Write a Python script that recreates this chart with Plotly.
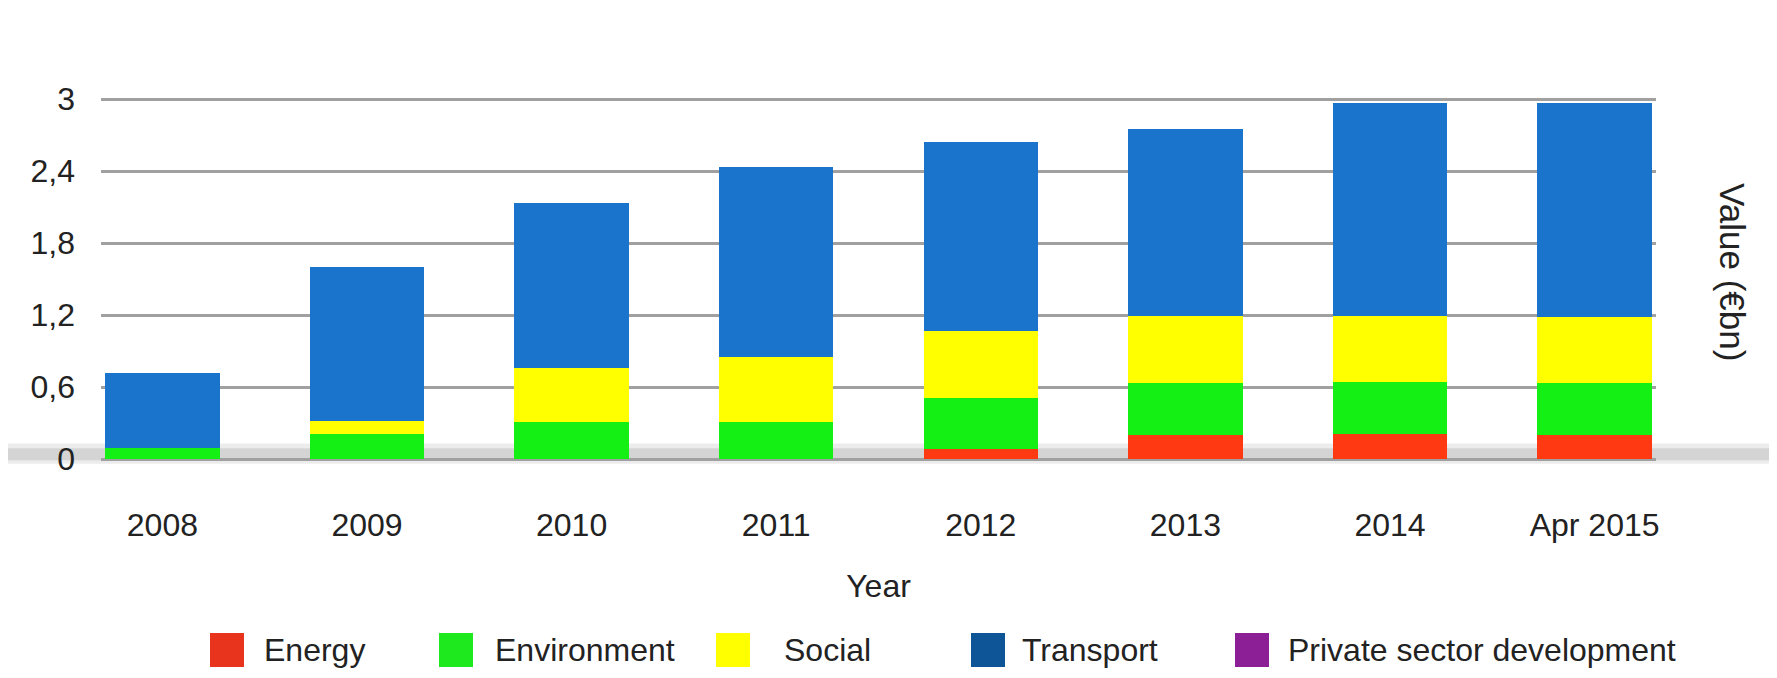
import plotly.graph_objects as go

# ---------------- data ----------------
years = ["2008", "2009", "2010", "2011", "2012", "2013", "2014", "Apr 2015"]
energy = [0.0, 0.0, 0.0, 0.0, 0.08, 0.20, 0.21, 0.20]
environment = [0.09, 0.21, 0.31, 0.31, 0.43, 0.43, 0.43, 0.43]
social = [0.0, 0.11, 0.45, 0.54, 0.56, 0.56, 0.55, 0.55]
transport = [0.63, 1.28, 1.37, 1.58, 1.57, 1.56, 1.78, 1.79]
private_sector = [0, 0, 0, 0, 0, 0, 0, 0]

series_names = ["Energy", "Environment", "Social", "Transport", "Private sector development"]
series_values = [energy, environment, social, transport, private_sector]
bar_colors = ["#FF3A12", "#14F014", "#FFFF00", "#1A74CB", "#8C1E96"]
legend_colors = ["#E8341C", "#1EE81E", "#FFFF00", "#0D5596", "#8C1E96"]

y_tickvals = [0, 0.6, 1.2, 1.8, 2.4, 3]
y_ticktext = ["0", "0,6", "1,2", "1,8", "2,4", "3"]

# ---------------- layout geometry ----------------
OFF = 8                      # page body margin
W, H = 1777 - OFF, 678 - OFF
ML, MT = 101 - OFF, 87 - OFF
PLOT_RIGHT, PLOT_BOTTOM = 1656 - OFF, 477 - OFF
MR, MB = W - PLOT_RIGHT, H - PLOT_BOTTOM
PW = W - ML - MR
PH = H - MT - MB


def px_x(px):
    return (px - OFF - ML) / PW


def px_y(py):
    return (PLOT_BOTTOM - (py - OFF)) / PH


FONT = "Liberation Sans, Arial, sans-serif"
TXT = "#222222"

fig = go.Figure()
for name, vals, col in zip(series_names, series_values, bar_colors):
    fig.add_trace(go.Bar(
        x=years, y=vals, name=name,
        marker=dict(color=col, line=dict(width=0)),
        width=0.56, showlegend=False,
    ))

shapes = [
    # soft floor shadow around zero
    dict(type="rect", xref="paper", yref="y", x0=-0.07, x1=1.08, y0=-0.04, y1=0.13,
         fillcolor="rgba(200,200,200,0.35)", line=dict(width=0), layer="below"),
    dict(type="rect", xref="paper", yref="y", x0=-0.07, x1=1.08, y0=-0.01, y1=0.09,
         fillcolor="rgba(170,170,170,0.35)", line=dict(width=0), layer="below"),
]
annotations = []

# manual legend (large square swatches as in the original)
sw_left = [210, 439, 716, 971, 1235]
txt_left = [262, 493, 782, 1020, 1286]
leg_cy = 650
sw = 34
for name, col, sx, tx in zip(series_names, legend_colors, sw_left, txt_left):
    shapes.append(dict(type="rect", xref="paper", yref="paper",
                       x0=px_x(sx), x1=px_x(sx + sw),
                       y0=px_y(leg_cy + sw / 2), y1=px_y(leg_cy - sw / 2),
                       fillcolor=col, line=dict(width=0)))
    annotations.append(dict(text=name, xref="paper", yref="paper",
                            x=px_x(tx), y=px_y(leg_cy), xanchor="left", yanchor="middle",
                            showarrow=False, font=dict(family=FONT, size=32, color=TXT)))

annotations.append(dict(text="Value (€bn)", xref="paper", yref="paper",
                        x=px_x(1733), y=px_y(272), xanchor="center", yanchor="middle",
                        textangle=90, showarrow=False,
                        font=dict(family=FONT, size=35, color=TXT)))

fig.update_layout(
    width=W, height=H,
    margin=dict(l=ML, r=MR, t=MT, b=MB, autoexpand=False),
    barmode="stack",
    paper_bgcolor="white", plot_bgcolor="white",
    font=dict(family=FONT, size=32, color=TXT),
    shapes=shapes, annotations=annotations,
    showlegend=False,
    xaxis=dict(
        type="category", range=[-0.3, 7.3],
        showgrid=False, zeroline=False, showline=False, ticks="",
        ticklabelstandoff=26,
        tickfont=dict(family=FONT, size=32, color=TXT),
        title=dict(text="Year", standoff=32, font=dict(family=FONT, size=32, color=TXT)),
    ),
    yaxis=dict(
        range=[-0.15, 3.1],
        tickvals=y_tickvals, ticktext=y_ticktext,
        showgrid=True, gridcolor="#a0a0a0", gridwidth=3,
        zeroline=False, showline=False, ticks="",
        ticklabelstandoff=25,
        tickfont=dict(family=FONT, size=32, color=TXT),
    ),
)

fig.write_html("out.html")
